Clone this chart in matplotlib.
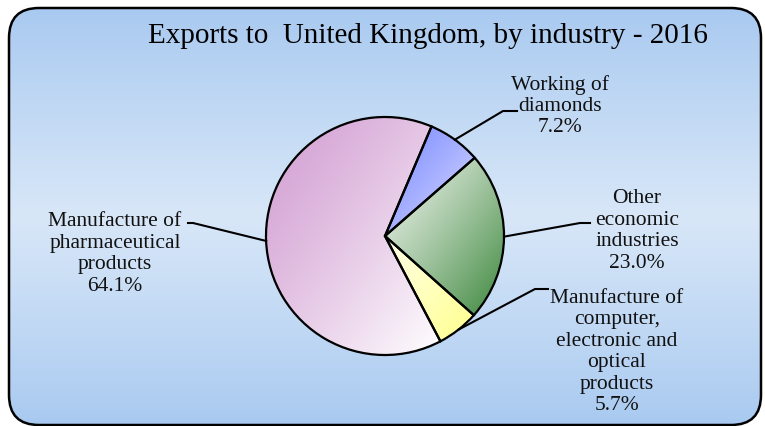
import numpy as np
import matplotlib
matplotlib.use('Agg')
import matplotlib.pyplot as plt
from matplotlib.patches import FancyBboxPatch
from matplotlib.colors import to_rgb

title = "Exports to  United Kingdom, by industry - 2016"
categories = ["Working of\ndiamonds",
              "Other\neconomic\nindustries",
              "Manufacture of\ncomputer,\nelectronic and\noptical\nproducts",
              "Manufacture of\npharmaceutical\nproducts"]
values = [7.2, 23.0, 5.7, 64.1]
grad_start = ['#7b8bff', '#eef3ec', '#ffffe2', '#d29ed2']
grad_end = ['#e2e2ff', '#3c873c', '#ffff8c', '#ffffff']

W, H = 765, 426
plt.rcParams['font.family'] = ['Liberation Serif', 'DejaVu Serif']

fig = plt.figure(figsize=(W / 100, H / 100), dpi=100)
ax = fig.add_axes([0, 0, 1, 1])


def py(y):
    return H - y


# pie
cx, cy, R = 385, py(236), 119
wedges, _ = ax.pie(values, startangle=67, counterclock=False, center=(cx, cy), radius=R,
                   wedgeprops=dict(ec='black', lw=1.6, fc='none', zorder=4))
ax.set_xlim(0, W)
ax.set_ylim(0, H)
ax.set_aspect('auto')
ax.axis('off')

# background rounded box with vertical gradient
bx0, by0, bx1, by1 = 9, py(425), 761, py(8)
bg = FancyBboxPatch((bx0, by0), bx1 - bx0, by1 - by0,
                    boxstyle="round,pad=0,rounding_size=30",
                    fc='none', ec='black', lw=1.8, zorder=1)
ax.add_patch(bg)
n = 300
tt = np.linspace(0, 1, n)
c_edge = np.array(to_rgb('#a8c9f0'))
c_mid = np.array(to_rgb('#d8e7f8'))
w = 1 - np.abs(tt - 0.5) / 0.5
w = np.clip(w, 0, 1) ** 0.9
bgimg = (c_edge[None, :] * (1 - w[:, None]) + c_mid[None, :] * w[:, None])[:, None, :]
im = ax.imshow(bgimg, extent=(bx0, bx1, by0, by1), origin='upper', aspect='auto',
               zorder=0.5, interpolation='bilinear')
im.set_clip_path(bg)

# wedge gradients
for wdg, c0, c1 in zip(wedges, grad_start, grad_end):
    ext = wdg.get_path().get_extents()
    x0, y0, x1, y1 = ext.x0, ext.y0, ext.x1, ext.y1
    g = 200
    xs = np.linspace(0, 1, g)
    ys = np.linspace(0, 1, g)
    X, Y = np.meshgrid(xs, ys)  # Y row 0 = top (origin upper)
    t = ((X + Y) / 2) ** 1.2
    a = np.array(to_rgb(c0))
    b = np.array(to_rgb(c1))
    img = a[None, None, :] * (1 - t[..., None]) + b[None, None, :] * t[..., None]
    wi = ax.imshow(img, extent=(x0, x1, y0, y1), origin='upper', aspect='auto',
                   zorder=2, interpolation='bilinear')
    wi.set_clip_path(wdg)

# leader lines and labels
elbows = [(503, 111), (580, 223), (535, 289), (193, 223)]
ends = [(517, 111), (590, 223), (548, 289), (188, 223)]
label_pos = [(560, 106), (637, 231), (617, 352), (115, 254)]
for wdg, cat, v, el, en, lp in zip(wedges, categories, values, elbows, ends, label_pos):
    th = np.deg2rad((wdg.theta1 + wdg.theta2) / 2)
    sx, sy = cx + R * np.cos(th), cy + R * np.sin(th)
    ax.plot([sx, el[0], en[0]], [sy, py(el[1]), py(en[1])], color='black', lw=1.5, zorder=3)
    ax.text(lp[0], py(lp[1]), f"{cat}\n{v:.1f}%", ha='center', va='center',
            multialignment='center', fontsize=15.5, linespacing=1.17, color='#111111', zorder=5)

ax.text(428, py(36), title, ha='center', va='center', fontsize=21, color='black', zorder=5)

fig.savefig('out.png', dpi=100)
